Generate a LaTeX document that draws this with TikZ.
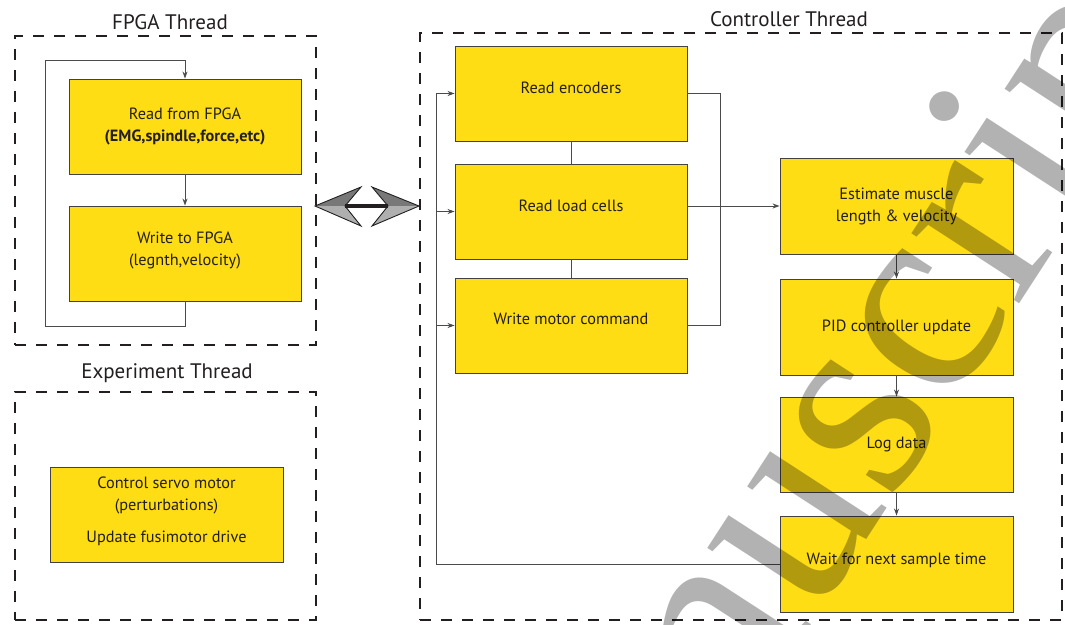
\documentclass[tikz,border=0pt]{standalone}
\usepackage{fontspec}
\setmainfont{PT Sans}
\newfontfamily\wmfont{Liberation Serif}
\usetikzlibrary{arrows.meta,calc}
\definecolor{boxyellow}{RGB}{255,221,21}
\definecolor{ink}{RGB}{35,31,32}
\definecolor{linegray}{RGB}{75,75,75}
\definecolor{headdark}{RGB}{120,120,120}
\definecolor{headlight}{RGB}{175,175,175}
\begin{document}
\begin{tikzpicture}[x=1pt,y=-1pt,
  blk/.style={draw=ink!85, line width=0.9pt, fill=boxyellow, minimum width=232pt, minimum height=95pt, inner sep=0pt, align=center, font=\fontsize{16.3}{22}\selectfont, text=ink},
  tb/.style={text height=12pt, text depth=#1},
  frame/.style={draw=ink, line width=2.6pt, dash pattern=on 11pt off 10pt, minimum width=#1, inner sep=0pt, outer sep=0pt},
  ttl/.style={font=\fontsize{21}{24}\selectfont, text=ink, anchor=base, inner sep=0pt},
  conn/.style={draw=linegray, line width=0.9pt},
  arr/.style={conn, -{Stealth[length=7pt,width=5pt]}},
]
\useasboundingbox (0,0) rectangle (1065,624);
\fill[white] (0,0) rectangle (1065,624);

% frames
\node[frame=301pt, minimum height=309pt] (fpgaF) at (165.5,190.5) {};
\node[frame=301pt, minimum height=228pt] (expF) at (165.5,506) {};
\node[frame=642pt, minimum height=587pt] (ctrlF) at (741,326.5) {};
\node[ttl] (fpgaT) at (170,29) {FPGA Thread};
\node[ttl] (expT) at (167,378) {Experiment Thread};
\node[ttl] (ctrlT) at (789,26) {Controller Thread};

% FPGA thread
\node[blk] (rf) at (185,126.5) {Read from FPGA\\\textbf{(EMG,spindle,force,etc)}};
\node[blk, text depth=10pt] (wf) at (185,253.5) {Write to FPGA\\(legnth,velocity)};
\draw[arr] (rf) -- (wf);
\draw[arr] (wf.south) -- ++(0,25) -| (45,60) -| (rf.north);

% experiment thread
\node[blk, minimum width=233pt, text depth=10pt] (cs) at (166.5,514.5) {Control servo motor\\(perturbations)\\[10pt]Update fusimotor drive};

% controller thread
\node[blk, tb=12pt] (re) at (571,93.5) {Read encoders};
\node[blk, tb=12pt] (rl) at (571,211.5) {Read load cells};
\node[blk, tb=14pt] (wm) at (571,325.5) {Write motor command};
\node[blk, minimum width=233pt, minimum height=96pt] (em) at (896.5,206) {Estimate muscle\\length \& velocity};
\node[blk, minimum width=233pt, minimum height=96pt] (pid) at (896.5,327) {PID controller update};
\node[blk, minimum width=233pt] (ld) at (896.5,444.5) {Log data};
\node[blk, tb=12pt, minimum width=233pt, minimum height=96pt] (ws) at (896.5,564) {Wait for next sample time};

\coordinate (busx) at (436,0);
\draw[conn] (re) -- (rl);
\draw[conn] (rl) -- (wm);
\draw[conn] (re.east) -- ++(33,0) |- (wm.east);
\draw[arr] (rl.east |- em.west) -- (em.west);
\draw[arr] (ws.west) -| (re.west -| busx) -- (re.west);
\draw[arr] (rl.west -| busx) -- (rl.west);
\draw[arr] (wm.west -| busx) -- (wm.west);
\draw[arr] (em) -- (pid);
\draw[arr] (pid) -- (ld);
\draw[arr] (ld) -- (ws);

% double arrow between threads
\fill[headdark] (315,206) -- (361,187) -- (345,206) -- cycle;
\fill[headlight] (315,206) -- (361,226) -- (345,206) -- cycle;
\draw[ink, line width=0.9pt, line join=miter] (315,206) -- (361,187) -- (345,206) -- (361,226) -- cycle;
\fill[headdark] (419,206) -- (372,187) -- (388,206) -- cycle;
\fill[headlight] (419,206) -- (372,226) -- (388,206) -- cycle;
\draw[ink, line width=0.9pt, line join=miter] (419,206) -- (372,187) -- (388,206) -- (372,226) -- cycle;
\draw[ink, line width=3.5pt] (345,206) -- (388,206);

% watermark
\begin{scope}
\clip (0,0) rectangle (1065,624);
\node[rotate=57, anchor=base west, inner sep=0pt, text=black, text opacity=0.3, font=\wmfont\fontsize{280}{280}\selectfont] (wmark) at (737,739) {\makebox[0pt][r]{Ma}nuscript};
\end{scope}
\end{tikzpicture}
\end{document}
